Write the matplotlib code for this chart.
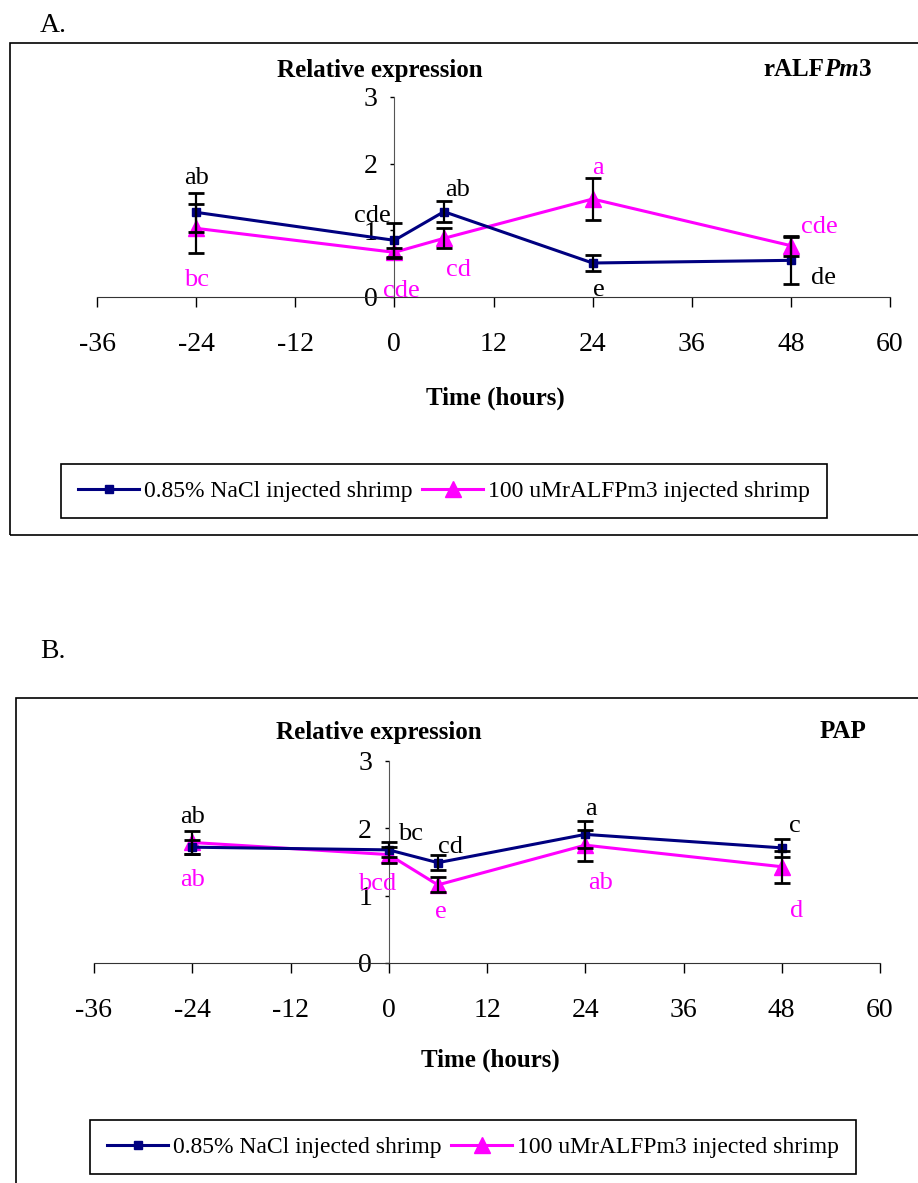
import numpy as np
import matplotlib.pyplot as plt
from matplotlib.patches import Rectangle

plt.rcParams['font.family'] = ['Liberation Serif', 'DejaVu Serif']

# time points (hours)
hours = [-24, 0, 6, 24, 48]

# A. rALFPm3
a_nacl = [1.27, 0.85, 1.28, 0.51, 0.55]
a_nacl_err = [0.29, 0.26, 0.16, 0.12, 0.35]
a_ralf = [1.03, 0.67, 0.88, 1.47, 0.77]
a_ralf_err = [0.37, 0.07, 0.15, 0.31, 0.15]
a_nacl_letters = ['ab', 'cde', 'ab', 'e', 'de']
a_ralf_letters = ['bc', 'cde', 'cd', 'a', 'cde']

# B. PAP
b_nacl = [1.72, 1.68, 1.49, 1.91, 1.71]
b_nacl_err = [0.10, 0.11, 0.11, 0.20, 0.13]
b_ralf = [1.79, 1.61, 1.16, 1.75, 1.43]
b_ralf_err = [0.17, 0.12, 0.11, 0.23, 0.24]
b_nacl_letters = ['ab', 'bc', 'cd', 'a', 'c']
b_ralf_letters = ['ab', 'bcd', 'e', 'ab', 'd']

xticks = [-36, -24, -12, 0, 12, 24, 36, 48, 60]
yticks = [0, 1, 2, 3]
legend_labels = ['0.85% NaCl injected shrimp', '100 uMrALFPm3 injected shrimp']

# label anchor points (x, baseline y) in data units
a_nacl_pos = [(-24, 1.69), (-2.7, 1.12), (7.6, 1.51), (24.7, 0.01), (52, 0.19)]
a_ralf_pos = [(-24, 0.17), (0.9, 0.0), (7.8, 0.32), (24.7, 1.84), (51.5, 0.96)]
b_nacl_pos = [(-24, 2.08), (2.6, 1.83), (7.6, 1.64), (24.7, 2.20), (49.6, 1.95)]
b_ralf_pos = [(-24, 1.15), (-1.4, 1.08), (6.4, 0.67), (25.9, 1.10), (49.8, 0.68)]

NAVY = '#000080'
MAGENTA = '#FF00FF'
W, H = 918, 1183

fig = plt.figure(figsize=(W / 100, H / 100), dpi=100)


def px_box(x0, y0, x1, y1):
    # pixel box (top-left origin) -> figure fraction [left, bottom, width, height]
    return [x0 / W, 1 - y1 / H, (x1 - x0) / W, (y1 - y0) / H]


def draw_panel(box, nacl, nacl_err, ralf, ralf_err, nacl_letters, ralf_letters,
               nacl_pos, ralf_pos, legend_center):
    ax = fig.add_axes(px_box(*box))
    ax.set_xlim(-36, 60)
    ax.set_ylim(0, 3)
    for s in ['top', 'right']:
        ax.spines[s].set_visible(False)
    ax.spines['left'].set_position(('data', 0))
    ax.spines['left'].set_color('#555555')
    ax.spines['bottom'].set_color('#333333')
    ax.patch.set_alpha(0)

    l1, = ax.plot(hours, nacl, color=NAVY, lw=2.2, marker='s', ms=6, zorder=3)
    l2, = ax.plot(hours, ralf, color=MAGENTA, lw=2.2, marker='^', ms=12, zorder=2)
    ax.errorbar(hours, nacl, yerr=nacl_err, fmt='none', ecolor='black',
                elinewidth=1.6, capsize=6, capthick=2, zorder=4)
    ax.errorbar(hours, ralf, yerr=ralf_err, fmt='none', ecolor='black',
                elinewidth=1.6, capsize=6, capthick=2, zorder=4)

    for txt, (x, y) in zip(nacl_letters, nacl_pos):
        ax.text(x, y, txt, color='black', fontsize=19, ha='center', va='baseline',
                zorder=5)
    for txt, (x, y) in zip(ralf_letters, ralf_pos):
        ax.text(x, y, txt, color=MAGENTA, fontsize=19, ha='center', va='baseline',
                zorder=5)

    ax.set_xticks(xticks)
    ax.set_xticklabels([str(t) for t in xticks])
    ax.set_yticks(yticks)
    ax.tick_params(axis='x', direction='out', length=7, width=1, pad=18, labelsize=20)
    ax.tick_params(axis='y', direction='out', length=3, width=1, pad=9, labelsize=20)

    leg = ax.legend([l1, l2], legend_labels, loc='center', ncol=2,
                    bbox_to_anchor=legend_center, bbox_transform=fig.transFigure,
                    fontsize=17, numpoints=1, handlelength=2.6, handletextpad=0.2,
                    columnspacing=0.4, borderpad=0.7, fancybox=False, framealpha=1,
                    edgecolor='black')
    leg.get_frame().set_linewidth(1.2)
    return ax


# panel A
fig.text(40 / W, 1 - 25 / H, 'A.', fontsize=20, ha='left', va='center')
fig.patches.append(Rectangle((10 / W, 1 - 535 / H), 920 / W, 492 / H,
                             transform=fig.transFigure, fill=False,
                             edgecolor='black', lw=1.2))
draw_panel((97, 97, 890, 297), a_nacl, a_nacl_err, a_ralf, a_ralf_err,
           a_nacl_letters, a_ralf_letters, a_nacl_pos, a_ralf_pos,
           (444 / W, 1 - 491 / H))
fig.text(380 / W, 1 - 70 / H, 'Relative expression', fontsize=18,
         fontweight='bold', ha='center', va='center')
t = fig.text(763 / W, 1 - 70 / H, 'rALF', fontsize=18, fontweight='bold',
             ha='left', va='center')
pm = plt.annotate('Pm', xy=(1, 0), xycoords=t, va='bottom', ha='left',
                  fontsize=18, fontweight='bold', fontstyle='italic',
                  annotation_clip=False)
plt.annotate('3', xy=(1, 0), xycoords=pm, va='bottom', ha='left',
             fontsize=18, fontweight='bold', annotation_clip=False)
fig.text(495 / W, 1 - 398 / H, 'Time (hours)', fontsize=18, fontweight='bold',
         ha='center', va='center')

# panel B
fig.text(40 / W, 1 - 652 / H, 'B.', fontsize=20, ha='left', va='center')
fig.patches.append(Rectangle((16 / W, 1 - 1200 / H), 920 / W, 502 / H,
                             transform=fig.transFigure, fill=False,
                             edgecolor='black', lw=1.2))
draw_panel((94, 761, 880, 963), b_nacl, b_nacl_err, b_ralf, b_ralf_err,
           b_nacl_letters, b_ralf_letters, b_nacl_pos, b_ralf_pos,
           (473 / W, 1 - 1147 / H))
fig.text(379 / W, 1 - 732 / H, 'Relative expression', fontsize=18,
         fontweight='bold', ha='center', va='center')
fig.text(843 / W, 1 - 732 / H, 'PAP', fontsize=18, fontweight='bold',
         ha='center', va='center')
fig.text(490 / W, 1 - 1060 / H, 'Time (hours)', fontsize=18, fontweight='bold',
         ha='center', va='center')

fig.savefig('out.png', dpi=100)
